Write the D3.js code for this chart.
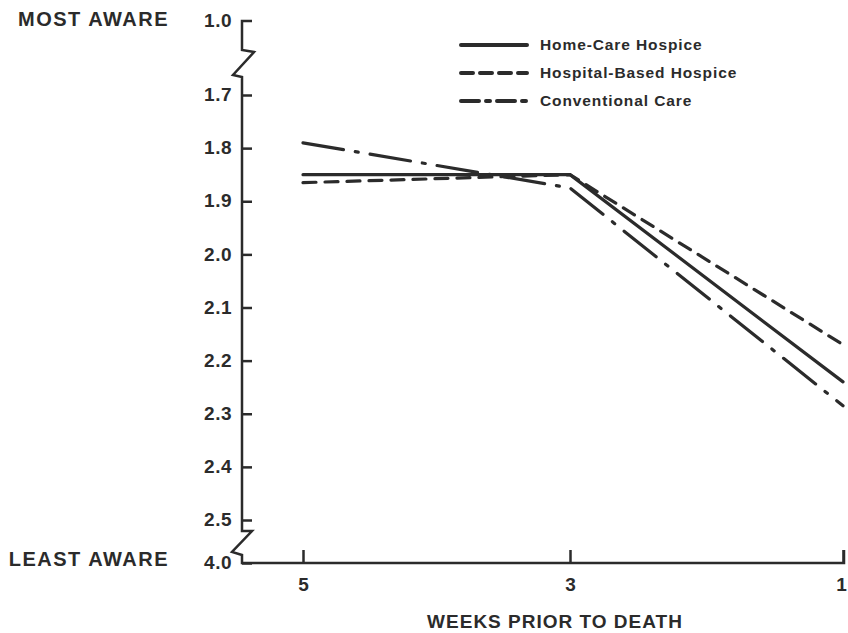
<!DOCTYPE html>
<html>
<head>
<meta charset="utf-8">
<script src="https://cdn.jsdelivr.net/npm/d3@7"></script>
<style>
  body { margin: 0; background: #fff; }
  text { font-family: "Liberation Sans", Arial, sans-serif; font-weight: bold; fill: #2b2b2b; }
</style>
</head>
<body>
<script>
// data
const weeks = [5, 3, 1];
const homeCare = [1.85, 1.85, 2.24];
const hospitalBased = [1.865, 1.85, 2.17];
const conventional = [1.79, 1.875, 2.285];
const seriesNames = ["Home-Care Hospice", "Hospital-Based Hospice", "Conventional Care"];
const yTicks = [1.0, 1.7, 1.8, 1.9, 2.0, 2.1, 2.2, 2.3, 2.4, 2.5, 4.0];
const xTitle = "WEEKS PRIOR TO DEATH";
const topLabel = "MOST AWARE";
const bottomLabel = "LEAST AWARE";

var ink = "#2b2b2b";
var width = 848, height = 633;

var svg = d3.select("body").append("svg")
  .attr("width", width)
  .attr("height", height);

// y axis has breaks between 1.0-1.7 and 2.5-4.0, so use a piecewise scale
var y = d3.scaleLinear()
  .domain([1.0, 1.7, 2.5, 4.0])
  .range([21, 95, 520, 563]);

var x = d3.scaleLinear()
  .domain([5, 3, 1])
  .range([303, 570, 843]);

var axX = 242;

// broken axis line (y axis + x axis as one path)
var t = y(1.0), b = y(4.0), lo = y(2.5);
var axisPts = [
  [axX + 10, t], [axX, t], [axX, t + 29], [axX + 12, t + 31], [axX - 9, t + 54], [axX, t + 56],
  [axX, lo + 11], [axX + 10, lo + 11], [axX - 10, lo + 32], [axX, lo + 35],
  [axX, b], [x(1) + 1, b], [x(1) + 1, b - 13]
];
svg.append("path")
  .attr("d", d3.line()(axisPts))
  .attr("fill", "none")
  .attr("stroke", ink)
  .attr("stroke-width", 2.5)
  .attr("stroke-linejoin", "miter");

// y ticks + labels
var yAxis = svg.append("g")
  .attr("transform", "translate(" + axX + ",0)")
  .call(d3.axisLeft(y).tickValues(yTicks.filter(function(d){ return d != 1.0; }))
    .tickSizeInner(-10).tickSizeOuter(0).tickPadding(10)
    .tickFormat(d3.format(".1f")));
yAxis.select(".domain").remove();
yAxis.selectAll("line").attr("stroke", ink).attr("stroke-width", 2.5);
yAxis.selectAll("text")
  .style("font-size", "19px")
  .style("letter-spacing", "0.5px")
  .attr("dy", "0.3em")
  .attr("fill", ink);

// label for 1.0 (tick is part of the broken path)
svg.append("text")
  .attr("x", axX - 10)
  .attr("y", y(1.0))
  .attr("dy", "0.3em")
  .attr("text-anchor", "end")
  .style("font-size", "19px")
  .style("letter-spacing", "0.5px")
  .text(d3.format(".1f")(yTicks[0]));

// x ticks
var xAxis = svg.append("g")
  .attr("transform", "translate(0," + b + ")")
  .call(d3.axisBottom(x).tickValues(weeks)
    .tickSizeInner(-13).tickSizeOuter(0).tickPadding(15)
    .tickFormat(d3.format("d")));
xAxis.select(".domain").remove();
xAxis.selectAll("line").attr("stroke", ink).attr("stroke-width", 2.5);
xAxis.selectAll("text")
  .style("font-size", "19px")
  .attr("dx", function(d) { return d == 1 ? "-2px" : null; })
  .attr("fill", ink);

// axis titles
svg.append("text")
  .attr("x", 555)
  .attr("y", 628)
  .attr("text-anchor", "middle")
  .style("font-size", "19px")
  .style("letter-spacing", "1px")
  .text(xTitle);

svg.append("text")
  .attr("x", 169)
  .attr("y", y(1.0) - 1)
  .attr("dy", "0.3em")
  .attr("text-anchor", "end")
  .style("font-size", "20px")
  .style("letter-spacing", "1.5px")
  .text(topLabel);

svg.append("text")
  .attr("x", 169)
  .attr("y", y(4.0) - 3)
  .attr("dy", "0.3em")
  .attr("text-anchor", "end")
  .style("font-size", "20px")
  .style("letter-spacing", "1.5px")
  .text(bottomLabel);

// series lines
var series = [
  { name: seriesNames[0], values: homeCare, dash: null, legDash: null },
  { name: seriesNames[1], values: hospitalBased, dash: "13,9", legDash: "12,7" },
  { name: seriesNames[2], values: conventional, dash: "41,12,3,12", legDash: "18,7,4,7" }
];

var line = d3.line()
  .x(function(d, i) { return x(weeks[i]); })
  .y(function(d) { return y(d); });

svg.append("g").selectAll("path")
  .data(series)
  .enter().append("path")
  .attr("d", function(s) { return line(s.values); })
  .attr("fill", "none")
  .attr("stroke", ink)
  .attr("stroke-width", 3.2)
  .attr("stroke-linecap", "round")
  .attr("stroke-dasharray", function(s) { return s.dash; });

// legend
var legend = svg.append("g").selectAll("g")
  .data(series)
  .enter().append("g")
  .attr("transform", function(s, i) { return "translate(0," + (45 + i * 28) + ")"; });

legend.append("line")
  .attr("x1", 461).attr("x2", 527)
  .attr("y1", 0).attr("y2", 0)
  .attr("stroke", ink)
  .attr("stroke-width", 4)
  .attr("stroke-linecap", "round")
  .attr("stroke-dasharray", function(s) { return s.legDash; });

legend.append("text")
  .attr("x", 540)
  .attr("y", 0)
  .attr("dy", "0.35em")
  .style("font-size", "15.5px")
  .style("letter-spacing", "0.9px")
  .text(function(s) { return s.name; });
</script>
</body>
</html>
